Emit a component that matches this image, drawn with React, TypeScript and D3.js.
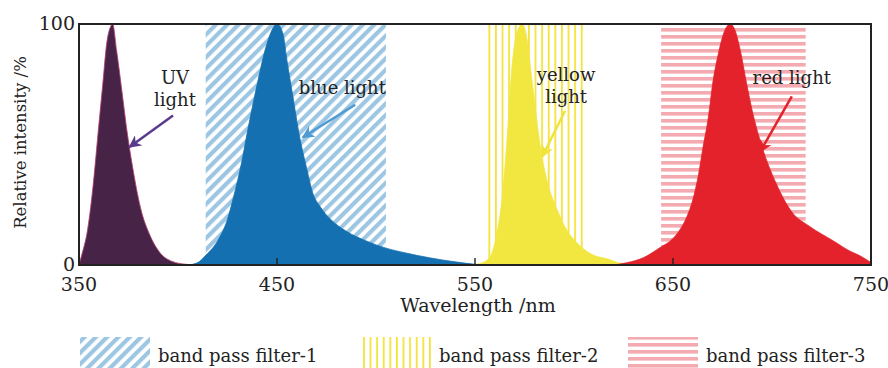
import * as d3 from "d3";

// spectra (wavelength nm, relative intensity %)
const uvWl = [350, 351, 352, 354, 357, 360, 362, 364, 366, 367, 369, 372, 374, 377, 381, 386, 391, 397, 404, 410];
const uvVal = [0, 3, 6, 13, 32, 58, 75, 92, 99, 100, 89, 70, 57, 41, 24, 12, 5, 1.5, 0.3, 0];

const blueWl = [405, 410, 414, 420, 425, 428, 432, 435, 440, 445, 450, 453, 455, 458, 461, 465, 468, 472, 477, 485, 495, 505, 515, 527, 540, 550, 555];
const blueVal = [0, 1, 4, 10, 19, 28, 42, 55, 75, 92, 100, 96, 85, 70, 55, 40, 30, 24, 19, 14, 10, 7, 5, 3, 1.3, 0.3, 0];

const yellowWl = [548, 552, 556, 559, 561, 564, 566, 569, 571, 574, 576, 579, 583, 587, 591, 596, 603, 610, 617, 622, 627];
const yellowVal = [0, 0.5, 2, 6, 13, 30, 50, 85, 96, 100, 95, 75, 49, 33, 24, 15, 8, 4, 2.5, 1, 0];

const redWl = [620, 627, 635, 643, 650, 653, 657, 660, 663, 665, 668, 670, 673, 676, 679, 681, 684, 687, 690, 695, 702, 710, 719, 731, 740, 744, 750];
const redVal = [0, 1, 3, 7, 11, 14, 20, 27, 38, 48, 62, 75, 88, 97, 100, 98, 89, 76, 64, 49, 34, 22, 16, 10, 5.5, 4, 1];

// filter pass bands [from, to] nm
const filterNames = ["band pass filter-1", "band pass filter-2", "band pass filter-3"];
const filterBands: [number, number][] = [[414, 505], [556, 605], [644, 717]];

const xTicks = [350, 450, 550, 650, 750];
const yTicks = [0, 100];

// annotations: label lines, text anchor (nm, %), arrow start and tip (nm, %)
const notes = [
  { lines: ["UV", "light"], at: [398.5, 75], from: [397.5, 62], to: [375.5, 49], color: "#5a3a8c" },
  { lines: ["blue light"], at: [483, 71], from: [489.5, 66.5], to: [463, 53], color: "#4d9bd2" },
  { lines: ["yellow", "light"], at: [596, 76.5], from: [595.5, 64], to: [584, 45], color: "#f0e33a" },
  { lines: ["red light"], at: [710, 75], from: [710, 70], to: [694, 47], color: "#e3222b" },
];

const W = 888;
const H = 368;
const margin = { top: 24, right: 17, bottom: 103, left: 79 };
const FONT = "DejaVu Serif";
const TEXT = "#222";

export default function App() {
  const x = d3.scaleLinear().domain([350, 750]).range([margin.left, W - margin.right]);
  const y = d3.scaleLinear().domain([0, 100]).range([H - margin.bottom, margin.top]);

  const area = d3
    .area<[number, number]>()
    .x((d) => x(d[0]))
    .y0(y(0))
    .y1((d) => y(d[1]))
    .curve(d3.curveMonotoneX);

  const zip = (a: number[], b: number[]) => a.map((v, i) => [v, b[i]] as [number, number]);

  const spectra = [
    { pts: zip(uvWl, uvVal), fill: "#472447", stroke: "#b23a6a" },
    { pts: zip(blueWl, blueVal), fill: "#1470b0", stroke: "#1470b0" },
    { pts: zip(yellowWl, yellowVal), fill: "#f2e640", stroke: "#f2e640" },
    { pts: zip(redWl, redVal), fill: "#e3222b", stroke: "#e3222b" },
  ];

  const patterns = ["url(#hatch1)", "url(#hatch2)", "url(#hatch3)"];
  const legendX = [80, 361, 628];

  return (
    <div style={{ position: "fixed", left: 0, top: 0 }}>
      <svg width={W} height={H} style={{ display: "block", background: "#fff" }}>
        <defs>
          <pattern id="hatch1" width={8} height={8} patternUnits="userSpaceOnUse" patternTransform="rotate(45)">
            <rect width={4.2} height={8} fill="#9cc6e2" />
          </pattern>
          <pattern id="hatch2" width={6.6} height={10} patternUnits="userSpaceOnUse">
            <rect x={0} width={1.8} height={10} fill="#f3e43c" />
          </pattern>
          <pattern id="hatch3" width={10} height={7} patternUnits="userSpaceOnUse">
            <rect y={0} width={10} height={3.6} fill="#f3aab0" />
          </pattern>
          {notes.map((n, i) => (
            <marker key={i} id={`arr${i}`} viewBox="0 0 10 10" refX={9} refY={5} markerWidth={5} markerHeight={5} orient="auto" markerUnits="strokeWidth">
              <path d="M0,0 L10,5 L0,10 L3,5 Z" fill={n.color} />
            </marker>
          ))}
        </defs>

        {/* filter bands */}
        {filterBands.map((b, i) => (
          <rect key={i} x={x(b[0])} y={y(100)} width={x(b[1]) - x(b[0])} height={y(0) - y(100)} fill={patterns[i]} />
        ))}

        {/* spectra */}
        {spectra.map((s, i) => (
          <path key={i} d={area(s.pts) ?? ""} fill={s.fill} stroke={s.stroke} strokeWidth={0.8} />
        ))}

        {/* frame */}
        <rect x={x(350)} y={y(100)} width={x(750) - x(350)} height={y(0) - y(100)} fill="none" stroke="#222" strokeWidth={2} />

        <g fontFamily={FONT} fill={TEXT}>
          {/* x ticks */}
          {xTicks.map((t) => (
            <g key={t}>
              {t > 350 && t < 750 && <line x1={x(t)} x2={x(t)} y1={y(0)} y2={y(0) - 7} stroke="#222" strokeWidth={1.4} />}
              <text x={x(t)} y={y(0) + 26} textAnchor="middle" fontSize={19}>
                {t}
              </text>
            </g>
          ))}
          {yTicks.map((t) => (
            <text key={t} x={x(350) - 4} y={y(t) + 6} textAnchor="end" fontSize={19}>
              {t}
            </text>
          ))}

          <text x={(x(350) + x(750)) / 2 + 3} y={y(0) + 47} textAnchor="middle" fontSize={19}>
            Wavelength /nm
          </text>
          <text transform={`translate(26,${(y(0) + y(100)) / 2 - 2}) rotate(-90)`} textAnchor="middle" fontSize={16.5}>
            Relative intensity /%
          </text>

          {/* annotations */}
          {notes.map((n, i) => (
            <g key={i}>
              {n.lines.map((l, j) => (
                <text key={j} x={x(n.at[0])} y={y(n.at[1]) + j * 22} textAnchor="middle" fontSize={18}>
                  {l}
                </text>
              ))}
              <line x1={x(n.from[0])} y1={y(n.from[1])} x2={x(n.to[0])} y2={y(n.to[1])} stroke={n.color} strokeWidth={2.5} markerEnd={`url(#arr${i})`} />
            </g>
          ))}

          {/* legend */}
          {filterNames.map((name, i) => (
            <g key={i}>
              <rect x={legendX[i]} y={337} width={70} height={31} fill={patterns[i]} />
              <text x={legendX[i] + 78} y={362} fontSize={18}>
                {name}
              </text>
            </g>
          ))}
        </g>
      </svg>
    </div>
  );
}
